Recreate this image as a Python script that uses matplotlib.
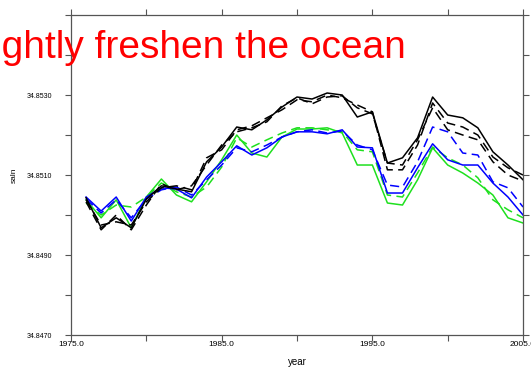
import matplotlib
matplotlib.use("Agg")
import matplotlib.pyplot as plt
import numpy as np

plt.rcParams['font.family'] = ['Liberation Sans', 'DejaVu Sans']

# annual mean salinity, 1976-2005
years = np.arange(1976, 2006)

black_solid = [34.85043, 34.84968, 34.84993, 34.84968, 34.85040, 34.85073, 34.85065, 34.85058,
               34.85133, 34.85170, 34.85220, 34.85213, 34.85238, 34.85270, 34.85295, 34.85290,
               34.85305, 34.85300, 34.85245, 34.85258, 34.85130, 34.85143, 34.85193, 34.85295,
               34.85250, 34.85243, 34.85218, 34.85158, 34.85125, 34.85088]
black_dash1 = [34.85038, 34.84975, 34.84983, 34.84975, 34.85033, 34.85068, 34.85073, 34.85063,
               34.85143, 34.85163, 34.85213, 34.85223, 34.85243, 34.85263, 34.85288, 34.85283,
               34.85300, 34.85293, 34.85275, 34.85258, 34.85113, 34.85113, 34.85175, 34.85280,
               34.85230, 34.85220, 34.85200, 34.85145, 34.85118, 34.85100]
black_dash2 = [34.85033, 34.84963, 34.85000, 34.84963, 34.85025, 34.85078, 34.85063, 34.85073,
               34.85125, 34.85175, 34.85208, 34.85218, 34.85233, 34.85273, 34.85293, 34.85278,
               34.85295, 34.85298, 34.85268, 34.85253, 34.85130, 34.85125, 34.85188, 34.85268,
               34.85213, 34.85200, 34.85188, 34.85133, 34.85100, 34.85085]
blue_solid = [34.85045, 34.85010, 34.85045, 34.84985, 34.85045, 34.85068, 34.85065, 34.85043,
              34.85095, 34.85133, 34.85173, 34.85150, 34.85168, 34.85195, 34.85208, 34.85208,
              34.85203, 34.85213, 34.85170, 34.85168, 34.85055, 34.85055, 34.85118, 34.85178,
              34.85138, 34.85125, 34.85125, 34.85080, 34.85045, 34.85000]
blue_dash = [34.85040, 34.85005, 34.85038, 34.84993, 34.85040, 34.85063, 34.85070, 34.85050,
             34.85088, 34.85125, 34.85168, 34.85158, 34.85175, 34.85195, 34.85208, 34.85213,
             34.85205, 34.85210, 34.85175, 34.85163, 34.85075, 34.85070, 34.85133, 34.85220,
             34.85208, 34.85155, 34.85150, 34.85083, 34.85068, 34.85020]
green_solid = [34.85038, 34.84993, 34.85038, 34.84968, 34.85045, 34.85090, 34.85050, 34.85033,
               34.85083, 34.85138, 34.85200, 34.85155, 34.85145, 34.85195, 34.85215, 34.85215,
               34.85218, 34.85205, 34.85125, 34.85125, 34.85030, 34.85025, 34.85088, 34.85168,
               34.85125, 34.85105, 34.85080, 34.85050, 34.84993, 34.84980]
green_dash = [34.85030, 34.85000, 34.85025, 34.85020, 34.85045, 34.85080, 34.85058, 34.85045,
              34.85070, 34.85120, 34.85193, 34.85170, 34.85188, 34.85205, 34.85218, 34.85218,
              34.85213, 34.85208, 34.85163, 34.85158, 34.85050, 34.85045, 34.85105, 34.85170,
              34.85143, 34.85125, 34.85093, 34.85038, 34.85013, 34.84993]

green = '#1ee01e'
dash = (6, 3.5)

fig = plt.figure(figsize=(5.31, 3.69), dpi=100)
ax = fig.add_axes([0.1337, 0.0921, 0.8513, 0.8672])

ax.plot(years, green_solid, color=green, lw=1.1)
ax.plot(years, green_dash, color=green, lw=1.1, dashes=dash)
ax.plot(years, blue_dash, color='blue', lw=1.1, dashes=dash)
ax.plot(years, blue_solid, color='blue', lw=1.1)
ax.plot(years, black_dash1, color='black', lw=1.1, dashes=dash)
ax.plot(years, black_dash2, color='black', lw=1.1, dashes=dash)
ax.plot(years, black_solid, color='black', lw=1.1)

ax.set_xlim(1975, 2005)
ax.set_ylim(34.8470, 34.8550)

ax.set_xticks([1975, 1980, 1985, 1990, 1995, 2000, 2005])
ax.set_xticklabels(['1975.0', '', '1985.0', '', '1995.0', '', '2005.0'])
ax.set_yticks(np.arange(34.8470, 34.85501, 0.0010))
ax.set_yticklabels(['34.8470', '', '34.8490', '', '34.8510', '', '34.8530', '', ''])
ax.tick_params(direction='out', length=4.5, width=0.8, color='#555555',
               labelsize=5, top=True, right=True)
ax.tick_params(axis='x', pad=-0.5, labelsize=6)
ax.tick_params(axis='y', pad=9)
for s in ax.spines.values():
    s.set_color('#555555')
    s.set_linewidth(0.9)

ax.set_xlabel('year', fontsize=7)
ax.set_ylabel('saln', fontsize=6)
ax.xaxis.set_label_coords(0.5, -0.07)
ax.yaxis.set_label_coords(-0.118, 0.5)

fig.text(406 / 531, 1 - 57.6 / 369, 'slightly freshen the ocean', color='red',
         fontsize=28, ha='right', va='baseline')

fig.savefig('out.png', dpi=100)
